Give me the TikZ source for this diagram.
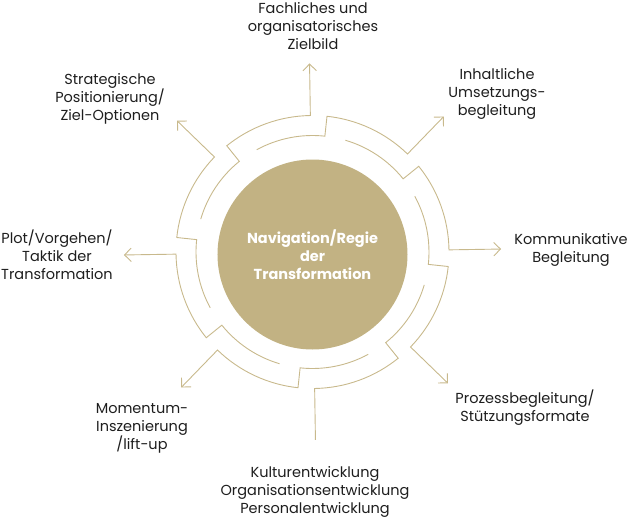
\documentclass[tikz,border=0pt]{standalone}
\usepackage{fontspec}
\setmainfont{Poppins}
\usetikzlibrary{calc}
\definecolor{gold}{RGB}{194,178,131}
\definecolor{goldline}{RGB}{200,185,140}
\definecolor{txt}{RGB}{30,30,30}
\begin{document}
\begin{tikzpicture}[x=1pt,y=1pt,
  ring/.style={draw=goldline,line width=0.9pt,line join=miter},
  lab/.style={align=center,text=txt,font=\fontsize{14.5}{18}\selectfont,inner sep=0pt},
  hub/.style={circle,fill=gold,minimum size=190pt,inner sep=0pt,align=center,text=white,font=\bfseries\fontsize{14.5}{18}\selectfont}]
\useasboundingbox (-312.5,-268) rectangle (316.5,252);
\def\Ro{136.5}
\def\Ri{116.5}
\def\Rt{188}
\node[hub] (hub) at (0,-2.5) {Navigation/Regie\\der\\Transformation};
\foreach \k in {0,...,7}{
  \pgfmathsetmacro{\a}{45*\k+0.9}
  \pgfmathsetmacro{\b}{\a+38}
  \pgfmathsetmacro{\c}{\a+72.7}
  \coordinate (tip\k) at (\a:\Rt);
  \draw[ring] (tip\k) -- (\a:\Ro) arc[start angle=\a,end angle=\b,radius=\Ro]
     -- (\b:\Ri) arc[start angle=\b,end angle=\c,radius=\Ri];
  \ifnum\k=6\else
    \draw[ring] ($(tip\k)+(\a+135:9.5)$) -- (tip\k) -- ($(tip\k)+(\a-135:9.5)$);
  \fi
}
\node[lab] (l0) at (258.5,2.5) {Kommunikative\\Begleitung};
\node[lab] (l1) at (184.5,158) {Inhaltliche\\Umsetzungs-\\begleitung};
\node[lab] (l2) at (0.5,226) {Fachliches und\\organisatorisches\\Zielbild};
\node[lab] (l3) at (-202.5,153) {Strategische\\Positionierung/\\Ziel-Optionen};
\node[lab] (l4) at (-255.5,-3) {Plot/Vorgehen/\\Taktik der\\Transformation};
\node[lab] (l5) at (-170.5,-176) {Momentum-\\Inszenierung\\/lift-up};
\node[lab] (l6) at (2.5,-240) {Kulturentwicklung\\Organisationsentwicklung\\Personalentwicklung};
\node[lab] (l7) at (212.5,-156) {Prozessbegleitung/\\Stützungsformate};
\end{tikzpicture}
\end{document}
